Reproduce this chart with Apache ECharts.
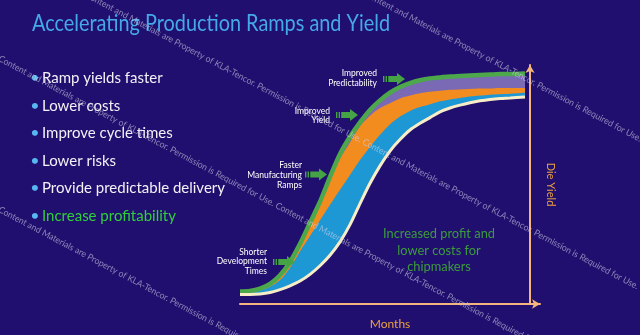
<!DOCTYPE html>
<html><head><meta charset="utf-8">
<script src="https://cdn.jsdelivr.net/npm/echarts@6/dist/echarts.min.js"></script>
<style>html,body{margin:0;padding:0;background:#200F6E;}#c{width:640px;height:335px;}</style>
</head><body><div id="c"></div>
<script>
// ---- data ----
const months = [0,1,2,3,4,5,6,7,8,9,10,11,12,13,14,15,16,17,18,19,20,21,22,23,24,25,26,27,28.5];
// top edge of the purple band (green line) - improved predictability
const predictabilityCurve = [5.2,5.4,6.4,8.4,12,17.6,25.2,34,42.8,53.2,62.8,70,76,81.2,85.2,88.4,90.8,92.4,93.6,94.4,94.8,95.2,95.4,95.6,95.8,96,96.2,96.2,96.4];
// top edge of the orange band - improved yield
const yieldCurve = [5,5.2,6,7.8,11.2,16.4,23.6,32.4,41.2,51.6,60.8,67.6,74.4,78.8,82,84,86,87.2,88.2,88.8,89.2,89.6,89.8,90,90.2,90.2,90.4,90.4,90.4];
// top edge of the blue band - faster manufacturing ramps
const rampCurve = [4.6,4.8,5.6,7.2,10,15.2,22,28.4,35,41.5,47.8,54,60.2,65.8,70.8,75.2,78.4,80.8,82.4,83.6,84.8,85.6,86.2,86.8,87.2,87.6,87.8,88,88.4];
// baseline (cream line)
const baselineCurve = [4,4,4.2,4.8,6,7.6,9.6,12.4,16,20.4,26,33.2,42,50.5,57.8,64,68.8,72.8,75.6,78,80.4,82,83.2,84.2,85,85.6,86,86.2,86.6];

const titleText = 'Accelerating Production Ramps and Yield';
const bulletItems = ['Ramp yields faster','Lower costs','Improve cycle times','Lower risks','Provide predictable delivery','Increase profitability'];
const annotations = [
  ['Improved','Predictability'],
  ['Improved','Yield'],
  ['Faster','Manufacturing','Ramps'],
  ['Shorter','Development','Times']
];
const centerNote = ['Increased profit and','lower costs for','chipmakers'];
const watermarkPhrase = 'Content and Materials are Property of KLA-Tencor. Permission is Required for Use. ';

// ---- rendering ----
const BG = '#200F6E';
const FONT = 'Lato, "Open Sans", sans-serif';
const mctx = document.createElement('canvas').getContext('2d');
function tw(t, font){ mctx.font = font; return mctx.measureText(t).width; }

const pts = arr => months.map((m,i)=>[m, arr[i]]);
const area = (arr,color,z) => ({type:'line', data:pts(arr), smooth:0.3, symbol:'none', silent:true,
  lineStyle:{width:0}, areaStyle:{color:color, opacity:1, origin:'start'}, z:z});
const line = (arr,color,w,z) => ({type:'line', data:pts(arr), smooth:0.3, symbol:'none', silent:true,
  lineStyle:{color:color, width:w}, z:z});

const graphics = [];
const Z = 50;
// title
const tFont = '23px ' + FONT;
graphics.push({type:'text', z:Z, x:32, y:24, scaleX: 358/tw(titleText,tFont), style:{text:titleText, font:tFont, fill:'#45A9E9', verticalAlign:'middle'}});
// bullets
const bFont = '16px ' + FONT;
const bScale = 183/tw(bulletItems[4], bFont);
const bY = [78,106,133,161,188,216];
bulletItems.forEach((t,i)=>{
  graphics.push({type:'text', z:Z, x:35, y:bY[i], style:{text:'•', font:bFont, fill:'#58B6F0', align:'center', verticalAlign:'middle'}});
  graphics.push({type:'text', z:Z, x:42, y:bY[i], scaleX:bScale, style:{text:t, font:bFont, fill: i===5?'#2FD03A':'#F2F2F6', verticalAlign:'middle'}});
});
// annotations + arrows
const aFont = '8.5px ' + FONT;
const aRight = [377,330,302,267];
const aTop = [73.5,111.5,165.5,252];
const aStep = [10,9,10,9.5];
const arrowPos = [[383,79],[336,115],[305,174.5],[273,262]];
annotations.forEach((lines,k)=>{
  lines.forEach((t,j)=>{
    graphics.push({type:'text', z:Z, x:aRight[k], y:aTop[k]+j*aStep[k], style:{text:t, font:aFont, fill:'#FFFFFF', align:'right', verticalAlign:'middle'}});
  });
  const [x,cy] = arrowPos[k];
  const g = '#45A345';
  graphics.push({type:'rect', z:Z, shape:{x:x, y:cy-3, width:1.4, height:6}, style:{fill:g}});
  graphics.push({type:'rect', z:Z, shape:{x:x+2.6, y:cy-3, width:1.4, height:6}, style:{fill:g}});
  graphics.push({type:'rect', z:Z, shape:{x:x+5.2, y:cy-3, width:9, height:6}, style:{fill:g}});
  graphics.push({type:'polygon', z:Z, shape:{points:[[x+14,cy-6],[x+22,cy],[x+14,cy+6]]}, style:{fill:g}});
});
// center note
const cFont = '13px ' + FONT;
const cScale = 112/tw(centerNote[0], cFont);
centerNote.forEach((t,i)=>{
  graphics.push({type:'text', z:Z, x:439, y:234+i*16.5, scaleX:cScale, style:{text:t, font:cFont, fill:'#3C9C3C', align:'center', verticalAlign:'middle'}});
});
// watermark
const wFont = '9px ' + FONT;
const wScale = 313.5/tw(watermarkPhrase, wFont);
const wRot = -Math.atan(0.53);
[[86,-5.7],[366,-6.4],[-1,58],[-1,209]].forEach(p=>{
  graphics.push({type:'text', x:p[0], y:p[1], rotation:wRot, scaleX:wScale, z:100, silent:true,
    style:{text:watermarkPhrase.repeat(3), font:wFont, fill:'rgba(210,210,232,0.6)', verticalAlign:'middle'}});
});

const axisColor = '#F5B57E';
const option = {
  backgroundColor: BG,
  animation: false,
  grid: {left:240, right:100, top:65, bottom:20},
  xAxis: {type:'value', min:0, max:30, z:10,
    name:'Months', nameLocation:'middle', nameGap:14,
    nameTextStyle:{color:'#EBA243', fontSize:12, fontFamily:'Lato'},
    axisLine:{show:true, onZero:false, symbol:['none','arrow'], symbolSize:[7,8], lineStyle:{color:axisColor, width:2}},
    axisTick:{show:false}, axisLabel:{show:false}, splitLine:{show:false}},
  yAxis: {type:'value', min:0, max:100, position:'right', offset:-10, z:10,
    name:'Die Yield', nameLocation:'middle', nameRotate:-90, nameGap:15,
    nameTextStyle:{color:'#EBA243', fontSize:11, fontFamily:'Lato'},
    axisLine:{show:true, onZero:false, symbol:['none','arrow'], symbolSize:[7,8], lineStyle:{color:axisColor, width:2}},
    axisTick:{show:false}, axisLabel:{show:false}, splitLine:{show:false}},
  series: [
    area(predictabilityCurve,'#7A69B5',2),
    area(yieldCurve,'#F28C1F',3),
    area(rampCurve,'#1E98D5',4),
    area(baselineCurve,BG,5),
    line(predictabilityCurve,'#4DA84B',4.5,6),
    line(baselineCurve,'#F8EDC6',3,6)
  ],
  graphic: graphics
};
const chart = echarts.init(document.getElementById('c'), null, {renderer:'canvas'});
chart.setOption(option);
</script>
</body></html>
